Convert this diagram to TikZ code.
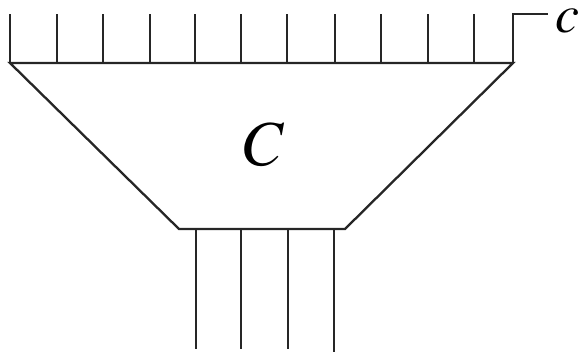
\documentclass[tikz,border=0pt]{standalone}
\usepackage{mathptmx}
\begin{document}
\begin{tikzpicture}[x=1pt,y=-1pt,
  ln/.style={line width=2.3pt,line join=miter,color=black!85},
  lbl/.style={inner sep=0pt}]
\useasboundingbox (0,0) rectangle (584,353);
\coordinate (tl) at (10,63);
\coordinate (tr) at (513,63);
\coordinate (br) at (345,229);
\coordinate (bl) at (179,229);
\coordinate (ctop) at (513,14);
\coordinate (cend) at (548,14);
\draw[ln] (tl) -- (tr) -- (br) -- (bl) -- cycle;
\foreach \x in {10,57,103,150,195,241,287,335,381,428,474}
  \draw[ln] (\x,63) -- (\x,14);
\draw[ln] (tr) -- (ctop) -- (cend);
\foreach \x/\e in {196/349,241/349,288/349,334/352}
  \draw[ln] (\x,229) -- (\x,\e);
\node[lbl,font=\fontsize{64}{64}\selectfont] (C) at (264,145) {$C$};
\node[lbl,font=\fontsize{54}{54}\selectfont] (c) at (567,21) {$c$};
\end{tikzpicture}
\end{document}
